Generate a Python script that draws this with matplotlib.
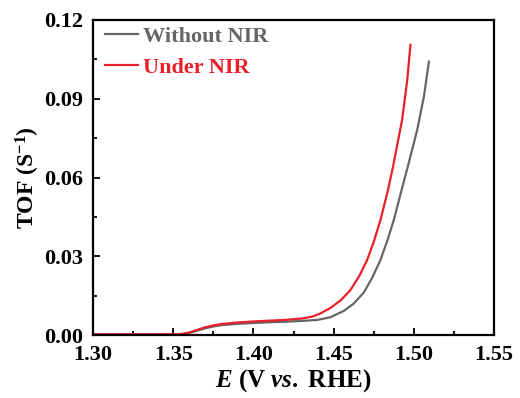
import matplotlib
matplotlib.use('Agg')
import matplotlib.pyplot as plt
from matplotlib.ticker import MultipleLocator, FormatStrFormatter

# TOF curves, with and without NIR irradiation
e_without = [1.300, 1.340, 1.355, 1.360, 1.365, 1.370, 1.375, 1.380, 1.390, 1.400,
             1.410, 1.420, 1.430, 1.440, 1.4479, 1.4563, 1.4625, 1.4688, 1.4740, 1.4792,
             1.4835, 1.4875, 1.4927, 1.4964, 1.5021, 1.5063, 1.5094]
tof_without = [0.0002, 0.0002, 0.0003, 0.0008, 0.0017, 0.0026, 0.0033, 0.0038, 0.0043, 0.0046,
               0.0049, 0.0051, 0.0054, 0.0058, 0.0068, 0.0092, 0.0120, 0.0162, 0.0218, 0.0286,
               0.0360, 0.0438, 0.0560, 0.0645, 0.0781, 0.0908, 0.1041]

e_nir = [1.300, 1.340, 1.355, 1.360, 1.365, 1.370, 1.375, 1.380, 1.390, 1.400,
         1.410, 1.420, 1.430, 1.437, 1.4419, 1.4479, 1.4545, 1.4604, 1.4660, 1.4709,
         1.4750, 1.4792, 1.4838, 1.4870, 1.4900, 1.4927, 1.4959, 1.4979]
tof_nir = [0.0003, 0.0003, 0.0004, 0.0010, 0.0020, 0.0030, 0.0037, 0.0042, 0.0048, 0.0052,
           0.0055, 0.0058, 0.0063, 0.0071, 0.0083, 0.0103, 0.0133, 0.0171, 0.0225, 0.0286,
           0.0355, 0.0438, 0.0550, 0.0640, 0.0735, 0.0819, 0.0971, 0.1105]

labels = ['Without NIR', 'Under NIR']
colors = ['#666666', '#e8202a']

plt.rcParams['font.family'] = 'Liberation Serif'
plt.rcParams['font.weight'] = 'bold'
plt.rcParams['axes.labelweight'] = 'bold'
plt.rcParams['mathtext.fontset'] = 'custom'
plt.rcParams['mathtext.rm'] = 'Liberation Serif:bold'
plt.rcParams['mathtext.it'] = 'Liberation Serif:bold:italic'
plt.rcParams['mathtext.bf'] = 'Liberation Serif:bold'

fig = plt.figure(figsize=(5.2, 3.98), dpi=100)
ax = fig.add_axes([0.179, 0.158, 0.771, 0.792])

ax.plot(e_without, tof_without, color=colors[0], lw=1.6, label=labels[0])
ax.plot(e_nir, tof_nir, color=colors[1], lw=1.6, label=labels[1])

ax.set_xlim(1.30, 1.55)
ax.set_ylim(0, 0.12)
ax.xaxis.set_major_locator(MultipleLocator(0.05))
ax.xaxis.set_minor_locator(MultipleLocator(0.025))
ax.yaxis.set_major_locator(MultipleLocator(0.03))
ax.yaxis.set_minor_locator(MultipleLocator(0.015))
ax.xaxis.set_major_formatter(FormatStrFormatter('%.2f'))
ax.yaxis.set_major_formatter(FormatStrFormatter('%.2f'))
ax.tick_params(which='both', direction='in', top=False, right=False, width=1.3, labelsize=16)
ax.tick_params(which='major', length=5)
ax.tick_params(which='minor', length=3)
ax.tick_params(axis='x', pad=7)
ax.tick_params(axis='y', pad=7)
for s in ax.spines.values():
    s.set_linewidth(1.6)

ax.set_xlabel('$E$ (V $vs.$ RHE)', fontsize=18, labelpad=2)
ax.set_ylabel('TOF (S$^{\\mathbf{-1}}$)', fontsize=17, labelpad=2)

leg = ax.legend(loc='upper left', bbox_to_anchor=(0.012, 1.0), frameon=False, fontsize=16,
                handlelength=1.5, handletextpad=0.25, borderaxespad=0.0, borderpad=0.3,
                labelspacing=0.45)
for txt, c in zip(leg.get_texts(), colors):
    txt.set_color(c)

fig.savefig('out.png', dpi=100)
